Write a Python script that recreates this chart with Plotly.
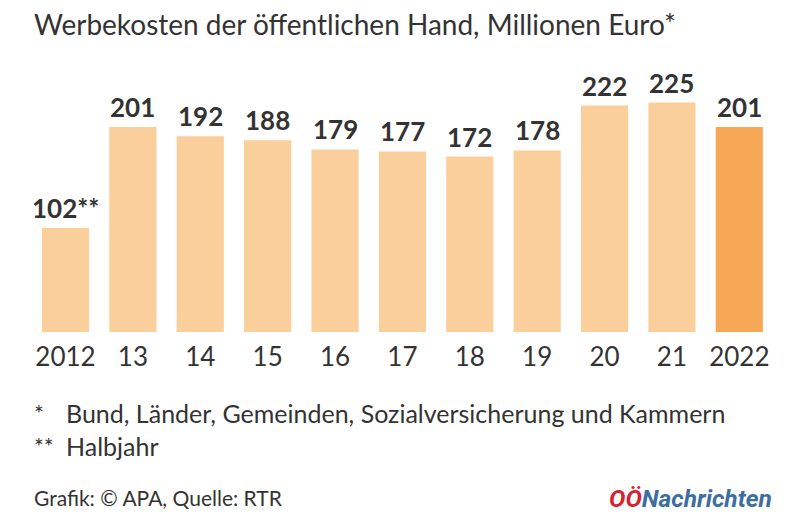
import plotly.graph_objects as go

categories = ["2012", "13", "14", "15", "16", "17", "18", "19", "20", "21", "2022"]
values = [102, 201, 192, 188, 179, 177, 172, 178, 222, 225, 201]
label_suffix = ["**", "", "", "", "", "", "", "", "", "", ""]
bar_colors = ["#FBCF9B"] * 10 + ["#F6A857"]

labels = [f"{v}{s}" for v, s in zip(values, label_suffix)]

# page body offset of 8px is applied by the browser; positions below are figure coords
pl, pr, pt, pb = 22, 35, 69, 205
W, H = 800, 529

fig = go.Figure(go.Bar(
    x=categories, y=values, marker_color=bar_colors, marker_line_width=0,
    hoverinfo="skip",
))

fig.update_layout(
    width=W, height=H,
    margin=dict(l=pl, r=pr, t=pt, b=pb),
    paper_bgcolor="white", plot_bgcolor="white",
    bargap=0.30, showlegend=False,
    font=dict(family="Lato", color="#333333"),
)
fig.update_yaxes(range=[0, 250], visible=False)
fig.update_xaxes(type="category", categoryorder="array", categoryarray=categories,
                 showgrid=False, showline=False, ticks="",
                 ticklabelstandoff=7,
                 tickfont=dict(family="Lato", size=26, color="#333333"))

for i, (v, t) in enumerate(zip(values, labels)):
    fig.add_annotation(x=i, y=v, text=t, xref="x", yref="y", showarrow=False,
                       xanchor="center", yanchor="bottom", yshift=2,
                       font=dict(family="Lato", size=26, color="#333333", weight="bold"))

anns = [
    ("Werbekosten der öffentlichen Hand, Millionen Euro*", 24, 16, 28, "Lato"),
    ("*", 24, 405, 23, "Lato"),
    ("Bund, Länder, Gemeinden, Sozialversicherung und Kammern", 56, 405, 25, "Lato"),
    ("**", 24, 438, 23, "Lato"),
    ("Halbjahr", 56, 438, 25, "Lato"),
    ("Grafik: © APA, Quelle: RTR", 24, 489, 21, "Lato"),
    ("<b><i><span style='color:#D6212E'>OÖ</span><span style='color:#3C6E9F'>Nachrichten</span></i></b>",
     599, 490, 24.5, "Roboto"),
]
pw, ph = W - pl - pr, H - pt - pb
for text, x, y, size, fam in anns:
    fig.add_annotation(text=text, x=(x - pl) / pw, y=(H - pb - y) / ph,
                       xref="paper", yref="paper", xanchor="left", yanchor="middle",
                       showarrow=False, font=dict(family=fam, size=size, color="#333333"))

fig.write_html("out.html")
